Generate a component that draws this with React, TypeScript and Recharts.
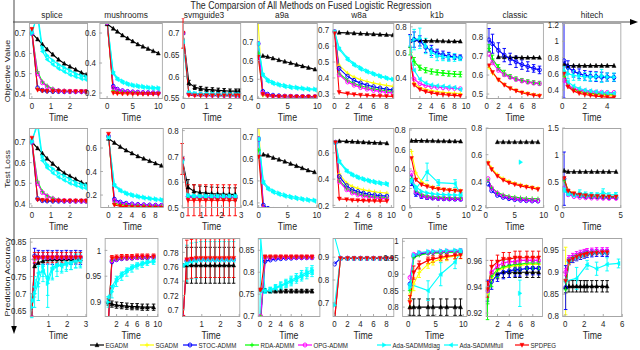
import React from 'react';
import { LineChart, Line, XAxis, YAxis, ErrorBar } from 'recharts';

const SERIES = ['EGADM', 'SGADM', 'STOC-ADMM', 'RDA-ADMM', 'OPG-ADMM', 'Ada-SADMMdiag', 'Ada-SADMMfull', 'SPDPEG'];
const COLORS = ['#000000', '#ffff00', '#0000ff', '#00ff00', '#ff00ff', '#00ffff', '#00ffff', '#ff0000'];
const MARKERS = ['^', '+', 'o', '+', 'o', '>', '<', 'v'];
const DATASETS = ['splice', 'mushrooms', 'svmguide3', 'a9a', 'w8a', 'k1b', 'classic', 'hitech'];
const ROWS = ['Objective Value', 'Test Loss', 'Prediction Accuracy'];
const TITLE = 'The Comparsion of All Methods on Fused Logistic Regression';

// ---- row 1: objective value ----
const objSpliceT = [0, 0.3, 0.55, 0.8, 1.1, 1.4, 1.7, 2.0, 2.3, 2.6, 2.85];
const objSplice = [
  [0.70, 0.67, 0.645, 0.62, 0.595, 0.57, 0.55, 0.535, 0.52, 0.505, 0.495],
  [0.70, 0.425, 0.415, 0.413, 0.412, 0.412, 0.412, 0.411, 0.411, 0.411, 0.411],
  [0.70, 0.43, 0.418, 0.414, 0.412, 0.412, 0.411, 0.411, 0.411, 0.411, 0.411],
  [0.70, 0.51, 0.46, 0.44, 0.425, 0.418, 0.415, 0.413, 0.412, 0.412, 0.412],
  [0.70, 0.50, 0.455, 0.435, 0.422, 0.416, 0.414, 0.413, 0.412, 0.412, 0.412],
  [0.70, 0.80, 0.63, 0.59, 0.565, 0.545, 0.53, 0.515, 0.50, 0.49, 0.485],
  [0.71, 0.78, 0.61, 0.57, 0.545, 0.525, 0.51, 0.495, 0.485, 0.475, 0.47],
  [0.72, 0.42, 0.416, 0.414, 0.413, 0.413, 0.412, 0.412, 0.412, 0.412, 0.412],
];

const objMushT = [0, 1.2, 2, 3, 4, 5, 6, 7, 8, 9, 10];
const objMush = [
  [0.66, 0.63, 0.61, 0.585, 0.565, 0.545, 0.525, 0.51, 0.495, 0.48, 0.465],
  [0.67, 0.21, 0.205, 0.20, 0.20, 0.20, 0.198, 0.198, 0.197, 0.197, 0.197],
  [0.67, 0.245, 0.225, 0.215, 0.21, 0.207, 0.205, 0.203, 0.202, 0.201, 0.20],
  [0.67, 0.215, 0.207, 0.203, 0.201, 0.20, 0.199, 0.198, 0.198, 0.197, 0.197],
  [0.67, 0.235, 0.22, 0.212, 0.207, 0.204, 0.202, 0.201, 0.20, 0.20, 0.20],
  [0.68, 0.34, 0.30, 0.28, 0.265, 0.255, 0.25, 0.245, 0.24, 0.237, 0.235],
  [0.68, 0.33, 0.29, 0.27, 0.257, 0.248, 0.242, 0.237, 0.233, 0.23, 0.228],
  [0.69, 0.20, 0.197, 0.195, 0.195, 0.194, 0.194, 0.193, 0.193, 0.193, 0.193],
];

const objSvmT = [0, 0.25, 0.5, 0.75, 1.0, 1.25, 1.5, 1.75, 2.0, 2.25, 2.4];
const objSvm = [
  [0.70, 0.585, 0.575, 0.572, 0.57, 0.569, 0.568, 0.567, 0.566, 0.566, 0.566],
  [0.70, 0.56, 0.558, 0.557, 0.557, 0.557, 0.557, 0.556, 0.556, 0.556, 0.556],
  [0.70, 0.561, 0.559, 0.558, 0.558, 0.557, 0.557, 0.557, 0.557, 0.557, 0.557],
  [0.70, 0.56, 0.558, 0.557, 0.557, 0.557, 0.556, 0.556, 0.556, 0.556, 0.556],
  [0.70, 0.56, 0.558, 0.558, 0.557, 0.557, 0.557, 0.556, 0.556, 0.556, 0.556],
  [0.68, 0.563, 0.561, 0.56, 0.56, 0.56, 0.559, 0.559, 0.559, 0.559, 0.559],
  [0.68, 0.562, 0.56, 0.559, 0.559, 0.559, 0.558, 0.558, 0.558, 0.558, 0.558],
  [0.70, 0.557, 0.556, 0.556, 0.556, 0.556, 0.556, 0.556, 0.556, 0.556, 0.556],
];
const objSvmE = {
  0: [0, 0.006, 0.005, 0.005, 0.005, 0.005, 0.005, 0.005, 0.005, 0.005, 0.005],
  7: [0.035, 0, 0, 0, 0, 0, 0, 0, 0, 0, 0],
};

const objA9aT = [0, 0.8, 1.6, 2.5, 3.5, 4.5, 5.5, 6.5, 7.5, 8.5, 9.6];
const objA9a = [
  [null, 0.625, 0.62, 0.612, 0.603, 0.595, 0.587, 0.578, 0.57, 0.562, 0.553],
  [0.80, 0.415, 0.41, 0.408, 0.407, 0.407, 0.406, 0.406, 0.406, 0.406, 0.406],
  [0.69, 0.435, 0.42, 0.415, 0.412, 0.41, 0.409, 0.408, 0.408, 0.407, 0.407],
  [0.64, 0.42, 0.412, 0.41, 0.409, 0.408, 0.407, 0.407, 0.407, 0.406, 0.406],
  [0.69, 0.425, 0.415, 0.41, 0.409, 0.408, 0.408, 0.407, 0.407, 0.407, 0.407],
  [0.69, 0.53, 0.50, 0.485, 0.475, 0.468, 0.462, 0.458, 0.454, 0.45, 0.448],
  [0.69, 0.52, 0.49, 0.477, 0.468, 0.46, 0.455, 0.452, 0.448, 0.445, 0.443],
  [0.62, 0.42, 0.412, 0.41, 0.409, 0.408, 0.408, 0.407, 0.407, 0.407, 0.407],
];

const objW8aT = [0, 0.7, 2, 3, 4, 5, 6, 7, 8, 9];
const objW8a = [
  [null, 0.685, 0.683, 0.681, 0.679, 0.677, 0.675, 0.673, 0.671, 0.669],
  [0.69, 0.48, 0.43, 0.405, 0.39, 0.378, 0.368, 0.36, 0.353, 0.347],
  [0.69, 0.46, 0.41, 0.385, 0.368, 0.355, 0.345, 0.337, 0.33, 0.325],
  [0.69, 0.43, 0.385, 0.365, 0.35, 0.34, 0.332, 0.325, 0.32, 0.316],
  [0.69, 0.42, 0.375, 0.355, 0.34, 0.33, 0.322, 0.316, 0.31, 0.306],
  [0.69, 0.59, 0.525, 0.49, 0.465, 0.445, 0.43, 0.415, 0.403, 0.393],
  [0.69, 0.58, 0.515, 0.48, 0.455, 0.437, 0.422, 0.408, 0.397, 0.387],
  [0.68, 0.31, 0.302, 0.297, 0.293, 0.29, 0.288, 0.287, 0.286, 0.285],
];

const objK1bT = [0.3, 1, 2, 3, 4, 5, 6, 7, 8, 9];
const objK1b = [
  [0.69, 0.70, 0.695, 0.69, 0.69, 0.69, 0.688, 0.687, 0.686, 0.686],
  [0.55, 0.36, 0.325, 0.31, 0.30, 0.292, 0.287, 0.283, 0.28, 0.278],
  [0.69, 0.70, 0.69, 0.64, 0.615, 0.595, 0.58, 0.57, 0.565, 0.56],
  [0.61, 0.53, 0.48, 0.46, 0.45, 0.443, 0.438, 0.434, 0.43, 0.428],
  [0.56, 0.39, 0.355, 0.34, 0.332, 0.327, 0.323, 0.32, 0.318, 0.315],
  [0.69, 0.70, 0.71, 0.65, 0.60, 0.575, 0.565, 0.56, 0.56, 0.555],
  [0.62, 0.46, 0.39, 0.36, 0.345, 0.338, 0.335, 0.33, 0.325, 0.31],
  [0.55, 0.345, 0.31, 0.293, 0.283, 0.275, 0.27, 0.266, 0.263, 0.26],
];
const objK1bE = {
  2: [0.05, 0.06, 0.04, 0.04, 0.04, 0.03, 0.03, 0.03, 0.02, 0.02],
  3: [0.03, 0.03, 0.02, 0.02, 0.02, 0.02, 0.02, 0.02, 0.02, 0.02],
  5: [0.04, 0.08, 0.08, 0.06, 0.04, 0.04, 0.03, 0.03, 0.03, 0.02],
};

const objClassicT = [0.4, 1, 2, 3, 4, 5, 6, 7, 8, 9];
const objClassic = [
  [null, null, 0.695, 0.695, 0.693, 0.693, 0.692, 0.692, 0.692, 0.692],
  [0.64, 0.61, 0.575, 0.55, 0.532, 0.52, 0.51, 0.503, 0.497, 0.493],
  [0.785, 0.765, 0.73, 0.705, 0.685, 0.67, 0.655, 0.645, 0.635, 0.627],
  [0.74, 0.685, 0.64, 0.61, 0.592, 0.58, 0.572, 0.565, 0.56, 0.557],
  [0.71, 0.665, 0.625, 0.602, 0.588, 0.577, 0.569, 0.563, 0.558, 0.555],
  [null, null, null, null, null, null, null, null, null, null],
  [null, null, null, null, null, null, null, null, null, null],
  [0.65, 0.615, 0.575, 0.548, 0.53, 0.517, 0.507, 0.5, 0.494, 0.49],
];
const objClassicE = {
  2: [0.06, 0.05, 0.04, 0.035, 0.03, 0.03, 0.025, 0.025, 0.02, 0.02],
  3: [0.02, 0.02, 0.015, 0.015, 0.01, 0.01, 0.01, 0.01, 0.01, 0.01],
};

const objHitechT = [0.15, 0.5, 1, 1.5, 2, 2.5, 3, 3.5, 4, 4.6];
const objHitech = [
  [0.72, 0.70, 0.70, 0.70, 0.70, 0.70, 0.70, 0.70, 0.70, 0.70],
  [0.58, 0.45, 0.40, 0.375, 0.36, 0.35, 0.343, 0.338, 0.334, 0.33],
  [0.76, 0.68, 0.63, 0.60, 0.58, 0.57, 0.565, 0.56, 0.56, 0.555],
  [0.57, 0.46, 0.41, 0.385, 0.37, 0.362, 0.357, 0.353, 0.35, 0.35],
  [0.52, 0.46, 0.42, 0.40, 0.39, 0.38, 0.375, 0.372, 0.37, 0.37],
  [0.64, 0.60, 0.58, 0.57, 0.565, 0.56, 0.565, 0.575, 0.56, 0.56],
  [0.60, 0.50, 0.45, 0.42, 0.40, 0.39, 0.38, 0.37, 0.365, 0.36],
  [0.60, 0.44, 0.39, 0.36, 0.345, 0.335, 0.325, 0.318, 0.313, 0.31],
];
const objHitechE = {
  2: [0.46, 0.08, 0.07, 0.06, 0.06, 0.06, 0.06, 0.06, 0.05, 0.05],
  5: [0.05, 0.06, 0.06, 0.05, 0.05, 0.05, 0.05, 0.08, 0.05, 0.05],
};

// ---- row 2: test loss ----
const lossSpliceT = [0, 0.3, 0.55, 0.8, 1.1, 1.4, 1.7, 2.0, 2.3, 2.6, 2.85];
const lossSplice = [
  [0.70, 0.67, 0.645, 0.62, 0.595, 0.57, 0.55, 0.535, 0.52, 0.505, 0.495],
  [0.70, 0.425, 0.418, 0.416, 0.415, 0.415, 0.414, 0.414, 0.414, 0.414, 0.414],
  [0.70, 0.425, 0.416, 0.414, 0.413, 0.413, 0.413, 0.413, 0.413, 0.413, 0.413],
  [0.70, 0.51, 0.46, 0.44, 0.428, 0.42, 0.417, 0.415, 0.414, 0.414, 0.414],
  [0.70, 0.50, 0.455, 0.437, 0.425, 0.418, 0.416, 0.415, 0.414, 0.414, 0.414],
  [0.70, 0.80, 0.63, 0.59, 0.57, 0.55, 0.535, 0.52, 0.505, 0.495, 0.49],
  [0.71, 0.78, 0.61, 0.575, 0.55, 0.53, 0.515, 0.50, 0.49, 0.48, 0.475],
  [0.72, 0.42, 0.418, 0.416, 0.415, 0.415, 0.415, 0.415, 0.415, 0.415, 0.415],
];

const lossMushT = [0, 1, 2, 3, 4, 5, 6, 7, 8, 9];
const lossMush = [
  [0.68, 0.645, 0.61, 0.58, 0.555, 0.53, 0.51, 0.49, 0.47, 0.45],
  [0.70, 0.125, 0.115, 0.11, 0.108, 0.106, 0.105, 0.104, 0.103, 0.102],
  [0.70, 0.165, 0.14, 0.13, 0.124, 0.12, 0.117, 0.115, 0.113, 0.112],
  [0.70, 0.13, 0.12, 0.113, 0.11, 0.108, 0.106, 0.105, 0.104, 0.103],
  [0.70, 0.15, 0.13, 0.122, 0.117, 0.114, 0.112, 0.11, 0.109, 0.108],
  [0.69, 0.29, 0.245, 0.22, 0.205, 0.193, 0.183, 0.175, 0.168, 0.162],
  [0.69, 0.28, 0.235, 0.21, 0.195, 0.183, 0.174, 0.167, 0.16, 0.155],
  [0.72, 0.115, 0.105, 0.10, 0.097, 0.095, 0.094, 0.093, 0.092, 0.092],
];

const lossSvmT = [0, 0.3, 0.6, 0.9, 1.2, 1.5, 1.8, 2.1, 2.4, 2.7];
const lossSvm = [
  [0.69, 0.58, 0.565, 0.56, 0.558, 0.556, 0.555, 0.554, 0.553, 0.553],
  [0.69, 0.542, 0.54, 0.54, 0.54, 0.54, 0.54, 0.54, 0.54, 0.54],
  [0.69, 0.545, 0.542, 0.541, 0.541, 0.541, 0.541, 0.541, 0.541, 0.541],
  [0.69, 0.542, 0.54, 0.54, 0.54, 0.54, 0.54, 0.54, 0.54, 0.54],
  [0.69, 0.543, 0.541, 0.541, 0.541, 0.541, 0.541, 0.541, 0.541, 0.541],
  [0.68, 0.55, 0.548, 0.547, 0.547, 0.547, 0.547, 0.547, 0.547, 0.547],
  [0.68, 0.548, 0.546, 0.545, 0.545, 0.545, 0.545, 0.545, 0.545, 0.545],
  [0.69, 0.53, 0.53, 0.53, 0.53, 0.53, 0.53, 0.53, 0.53, 0.53],
];
const lossSvmE = {
  0: [0, 0.03, 0.025, 0.025, 0.025, 0.025, 0.025, 0.025, 0.025, 0.025],
  7: [0.06, 0.06, 0.06, 0.06, 0.06, 0.06, 0.06, 0.06, 0.06, 0.06],
};

const lossA9aT = [0, 0.8, 1.6, 2.5, 3.5, 4.5, 5.5, 6.5, 7.5, 8.5, 9.6];
const lossA9a = [
  [null, 0.62, 0.615, 0.605, 0.597, 0.588, 0.578, 0.568, 0.558, 0.548, 0.54],
  [0.75, 0.365, 0.362, 0.36, 0.36, 0.36, 0.36, 0.36, 0.36, 0.36, 0.36],
  [0.69, 0.39, 0.375, 0.37, 0.368, 0.366, 0.365, 0.365, 0.364, 0.364, 0.364],
  [0.64, 0.37, 0.365, 0.363, 0.362, 0.362, 0.362, 0.361, 0.361, 0.361, 0.361],
  [0.69, 0.375, 0.368, 0.365, 0.364, 0.363, 0.363, 0.362, 0.362, 0.362, 0.362],
  [0.69, 0.50, 0.47, 0.455, 0.445, 0.437, 0.43, 0.425, 0.42, 0.416, 0.413],
  [0.69, 0.49, 0.462, 0.448, 0.438, 0.43, 0.424, 0.419, 0.415, 0.411, 0.408],
  [0.61, 0.36, 0.36, 0.359, 0.359, 0.359, 0.359, 0.359, 0.359, 0.359, 0.359],
];

const lossW8aT = [0, 0.7, 2, 3, 4, 5, 6, 7, 8, 9.2];
const lossW8a = [
  [null, 0.69, 0.688, 0.686, 0.684, 0.682, 0.68, 0.678, 0.676, 0.674],
  [0.68, 0.44, 0.37, 0.345, 0.33, 0.318, 0.31, 0.303, 0.298, 0.293],
  [0.68, 0.42, 0.35, 0.32, 0.305, 0.293, 0.285, 0.279, 0.274, 0.27],
  [0.68, 0.39, 0.33, 0.305, 0.29, 0.28, 0.273, 0.267, 0.263, 0.26],
  [0.68, 0.38, 0.32, 0.295, 0.28, 0.27, 0.263, 0.258, 0.254, 0.25],
  [0.68, 0.54, 0.47, 0.44, 0.42, 0.405, 0.393, 0.383, 0.375, 0.368],
  [0.68, 0.53, 0.46, 0.43, 0.41, 0.395, 0.383, 0.373, 0.365, 0.358],
  [0.68, 0.25, 0.245, 0.24, 0.238, 0.236, 0.235, 0.234, 0.233, 0.233],
];

const lossK1bT = [0.2, 1, 2, 3, 4, 5, 6, 7, 8, 9];
const lossK1b = [
  [0.69, 0.69, 0.69, 0.688, 0.688, 0.686, 0.686, 0.685, 0.684, 0.683],
  [0.58, 0.36, 0.27, 0.235, 0.215, 0.20, 0.192, 0.186, 0.181, 0.177],
  [0.28, 0.15, 0.12, 0.108, 0.102, 0.098, 0.095, 0.093, 0.091, 0.09],
  [0.30, 0.18, 0.14, 0.125, 0.117, 0.112, 0.108, 0.105, 0.103, 0.102],
  [0.36, 0.17, 0.125, 0.112, 0.105, 0.101, 0.099, 0.097, 0.096, 0.095],
  [0.27, 0.22, 0.17, 0.155, 0.145, 0.14, 0.137, 0.135, 0.133, 0.132],
  [0.29, 0.19, null, 0.37, null, 0.26, null, null, 0.25, 0.14],
  [0.51, 0.29, 0.24, 0.22, 0.205, 0.195, 0.188, 0.182, 0.177, 0.172],
];
const lossK1bE = {
  2: [0.05, 0.03, 0.02, 0.02, 0.015, 0.015, 0.015, 0.015, 0.015, 0.015],
  6: [0, 0, 0, 0.09, 0, 0.03, 0, 0, 0.04, 0.02],
};

const lossClassicT = [0.4, 1, 2, 3, 4, 5, 6, 7, 8, 9];
const lossClassic = [
  [null, null, 0.695, 0.695, 0.695, 0.695, 0.695, 0.695, 0.695, 0.695],
  [0.545, 0.50, 0.45, 0.42, 0.40, 0.385, 0.373, 0.363, 0.355, 0.348],
  [0.38, 0.33, 0.295, 0.28, 0.27, 0.263, 0.258, 0.255, 0.253, 0.252],
  [0.41, 0.355, 0.315, 0.298, 0.288, 0.281, 0.276, 0.272, 0.27, 0.268],
  [0.42, 0.35, 0.31, 0.29, 0.278, 0.27, 0.265, 0.261, 0.258, 0.256],
  [null, null, null, null, null, null, 0.544, null, null, null],
  [null, null, null, null, null, null, null, null, null, null],
  [0.535, 0.49, 0.44, 0.41, 0.39, 0.377, 0.366, 0.357, 0.35, 0.34],
];

const lossHitechT = [0.15, 0.5, 1, 1.5, 2, 2.5, 3, 3.5, 4, 4.6];
const lossHitech = [
  [0.70, 0.68, 0.68, 0.68, 0.68, 0.68, 0.68, 0.68, 0.68, 0.68],
  [0.56, 0.33, 0.28, 0.255, 0.24, 0.23, 0.223, 0.218, 0.214, 0.21],
  [0.55, 0.30, 0.25, 0.23, 0.22, 0.213, 0.208, 0.204, 0.20, 0.20],
  [0.52, 0.30, 0.25, 0.232, 0.222, 0.215, 0.21, 0.206, 0.203, 0.20],
  [0.37, 0.25, 0.215, 0.20, 0.193, 0.188, 0.185, 0.183, 0.181, 0.18],
  [0.35, 0.27, 0.25, 0.28, 0.26, 0.25, 0.245, 0.29, 0.245, 0.25],
  [0.33, 0.26, 0.24, 0.235, 0.23, 0.228, 0.225, 0.223, 0.222, 0.22],
  [0.56, 0.32, 0.27, 0.25, 0.235, 0.225, 0.22, 0.215, 0.212, 0.21],
];
const lossHitechE = {
  2: [0.5, 0.05, 0.03, 0.03, 0.03, 0.03, 0.03, 0.03, 0.03, 0.03],
  5: [0.05, 0.04, 0.04, 0.06, 0.04, 0.04, 0.04, 0.07, 0.04, 0.04],
};

// ---- row 3: prediction accuracy ----
const accSpliceT = [0.1, 0.25, 0.45, 0.7, 0.95, 1.2, 1.45, 1.7, 1.95, 2.2, 2.45, 2.7];
const accSplice = [
  [0.63, 0.78, 0.79, 0.795, 0.80, 0.80, 0.80, 0.80, 0.80, 0.80, 0.80, 0.80],
  [0.63, 0.80, 0.805, 0.805, 0.805, 0.805, 0.805, 0.805, 0.805, 0.805, 0.805, 0.805],
  [0.63, 0.81, 0.806, 0.805, 0.806, 0.805, 0.806, 0.805, 0.806, 0.805, 0.806, 0.805],
  [0.63, 0.80, 0.804, 0.805, 0.805, 0.805, 0.805, 0.805, 0.805, 0.805, 0.805, 0.805],
  [0.63, 0.80, 0.805, 0.806, 0.805, 0.806, 0.805, 0.806, 0.805, 0.806, 0.805, 0.806],
  [0.66, 0.70, 0.73, 0.78, 0.73, 0.77, 0.78, 0.785, 0.79, 0.79, 0.795, 0.80],
  [0.68, 0.72, 0.76, 0.765, 0.745, 0.775, 0.785, 0.78, 0.785, 0.79, 0.795, 0.795],
  [0.63, 0.805, 0.805, 0.805, 0.805, 0.805, 0.805, 0.805, 0.805, 0.805, 0.805, 0.805],
];
const accSpliceE = {
  2: [0, 0.022, 0.02, 0.02, 0.02, 0.02, 0.02, 0.02, 0.02, 0.02, 0.02, 0.02],
  5: [0.03, 0.04, 0.05, 0.03, 0.07, 0.03, 0.03, 0.02, 0.02, 0.02, 0.02, 0.02],
  6: [0.02, 0.03, 0.04, 0.03, 0.05, 0.03, 0.02, 0.02, 0.02, 0.02, 0.02, 0.02],
  7: [0, 0.015, 0.015, 0.015, 0.015, 0.015, 0.015, 0.015, 0.015, 0.015, 0.015, 0.015],
};

const accMushT = [0.4, 1.1, 2, 3, 4, 5, 6, 7, 8, 9.2];
const accMush = [
  [0.90, 0.896, 0.894, 0.893, 0.892, 0.891, 0.891, 0.89, 0.89, 0.89],
  [0.86, 0.982, 0.984, 0.985, 0.985, 0.986, 0.986, 0.986, 0.987, 0.987],
  [0.86, 0.978, 0.982, 0.984, 0.985, 0.985, 0.986, 0.986, 0.986, 0.987],
  [0.86, 0.982, 0.984, 0.985, 0.985, 0.985, 0.986, 0.986, 0.986, 0.987],
  [0.86, 0.98, 0.983, 0.985, 0.985, 0.986, 0.986, 0.987, 0.987, 0.987],
  [0.90, 0.92, 0.94, 0.95, 0.958, 0.965, 0.97, 0.973, 0.976, 0.978],
  [0.91, 0.93, 0.945, 0.955, 0.962, 0.968, 0.972, 0.975, 0.978, 0.98],
  [0.86, 0.985, 0.986, 0.987, 0.987, 0.987, 0.988, 0.988, 0.988, 0.988],
];
const accMushE = {
  0: [0.006, 0.006, 0.006, 0.006, 0.006, 0.006, 0.006, 0.006, 0.006, 0.006],
  5: [0.01, 0.012, 0.01, 0.008, 0.008, 0.007, 0.006, 0.006, 0.005, 0.005],
  7: [0, 0.005, 0.005, 0.005, 0.005, 0.005, 0.005, 0.005, 0.005, 0.005],
};

const accSvmT = [0, 0.2, 0.45, 0.7, 0.95, 1.2, 1.45, 1.7, 1.95, 2.2, 2.45, 2.7];
const accSvm = [
  [0.762, 0.762, 0.762, 0.762, 0.762, 0.762, 0.762, 0.762, 0.762, 0.762, 0.762, 0.762],
  [0.69, 0.768, 0.77, 0.771, 0.771, 0.771, 0.771, 0.771, 0.771, 0.771, 0.771, 0.771],
  [0.69, 0.768, 0.769, 0.77, 0.77, 0.77, 0.77, 0.77, 0.77, 0.77, 0.77, 0.77],
  [0.69, 0.768, 0.77, 0.77, 0.77, 0.77, 0.77, 0.77, 0.77, 0.77, 0.77, 0.77],
  [0.69, 0.769, 0.77, 0.77, 0.77, 0.77, 0.77, 0.77, 0.77, 0.77, 0.77, 0.77],
  [0.762, 0.765, 0.768, 0.769, 0.77, 0.77, 0.77, 0.77, 0.77, 0.77, 0.77, 0.77],
  [0.762, 0.764, 0.767, 0.768, 0.769, 0.769, 0.769, 0.769, 0.769, 0.769, 0.769, 0.769],
  [0.69, 0.77, 0.771, 0.772, 0.772, 0.772, 0.772, 0.772, 0.772, 0.772, 0.772, 0.772],
];
const accSvmE = {
  0: [0, 0.025, 0.025, 0.025, 0.025, 0.025, 0.025, 0.025, 0.025, 0.025, 0.025, 0.025],
  5: [0, 0.025, 0.025, 0.025, 0.025, 0.025, 0.025, 0.025, 0.025, 0.025, 0.025, 0.025],
  7: [0, 0.027, 0.027, 0.027, 0.027, 0.027, 0.027, 0.027, 0.027, 0.027, 0.027, 0.027],
};

const accA9aT = [0, 0.15, 1, 2, 3, 4, 5, 6, 7, 8, 9, 10];
const accA9a = [
  [null, null, 0.758, 0.757, 0.757, 0.757, 0.757, 0.757, 0.757, 0.757, 0.757, 0.757],
  [null, 0.70, 0.833, 0.834, 0.834, 0.834, 0.834, 0.834, 0.834, 0.834, 0.834, 0.834],
  [null, 0.69, 0.825, 0.828, 0.83, 0.831, 0.832, 0.832, 0.833, 0.833, 0.833, 0.833],
  [null, 0.70, 0.833, 0.834, 0.834, 0.834, 0.834, 0.834, 0.834, 0.834, 0.834, 0.834],
  [null, 0.70, 0.833, 0.833, 0.834, 0.834, 0.834, 0.834, 0.834, 0.834, 0.834, 0.834],
  [0.69, 0.88, 0.757, 0.76, 0.765, 0.77, 0.776, 0.782, 0.788, 0.794, 0.80, 0.805],
  [0.758, 0.758, 0.758, 0.759, 0.763, 0.768, 0.773, 0.778, 0.784, 0.79, 0.795, 0.80],
  [0.76, 0.76, 0.835, 0.835, 0.835, 0.835, 0.835, 0.835, 0.835, 0.835, 0.835, 0.835],
];
const accA9aE = {
  0: [0, 0, 0.004, 0.004, 0.004, 0.004, 0.004, 0.004, 0.004, 0.004, 0.004, 0.004],
  5: [0, 0, 0.005, 0.006, 0.007, 0.008, 0.008, 0.009, 0.009, 0.01, 0.01, 0.01],
  6: [0, 0, 0.005, 0.006, 0.007, 0.008, 0.008, 0.009, 0.009, 0.01, 0.01, 0.01],
  7: [0, 0, 0.004, 0.004, 0.004, 0.004, 0.004, 0.004, 0.004, 0.004, 0.004, 0.004],
};

const accW8aT = [0, 0.9, 2, 3, 4, 5, 6, 7, 8, 9];
const accW8a = [
  [null, 0.895, 0.895, 0.895, 0.895, 0.895, 0.895, 0.895, 0.895, 0.895],
  [0.63, 0.894, 0.895, 0.895, 0.895, 0.895, 0.895, 0.895, 0.895, 0.895],
  [0.87, 0.895, 0.895, 0.895, 0.895, 0.895, 0.895, 0.895, 0.895, 0.895],
  [0.63, 0.894, 0.895, 0.895, 0.895, 0.895, 0.895, 0.895, 0.895, 0.895],
  [0.63, 0.895, 0.895, 0.895, 0.895, 0.895, 0.895, 0.895, 0.895, 0.895],
  [0.69, 0.895, 0.895, 0.895, 0.895, 0.895, 0.895, 0.895, 0.895, 0.895],
  [0.99, 0.895, 0.895, 0.895, 0.895, 0.895, 0.895, 0.895, 0.895, 0.895],
  [0.62, 0.895, 0.895, 0.895, 0.895, 0.895, 0.895, 0.895, 0.895, 0.895],
];

const accK1bT = [0.3, 1, 2, 3.6, 4.5, 5.9, 7, 8.5, 9.5];
const accK1b = [
  [0.80, 0.80, 0.80, 0.80, 0.80, 0.80, 0.80, 0.80, 0.80],
  [0.82, 0.87, 0.905, 0.93, 0.938, 0.946, 0.951, 0.955, 0.957],
  [0.87, 0.955, 0.962, 0.965, 0.966, 0.967, 0.968, 0.969, 0.969],
  [0.85, 0.95, 0.958, 0.963, 0.964, 0.965, 0.966, 0.967, 0.967],
  [0.89, 0.96, 0.965, 0.967, 0.968, 0.969, 0.97, 0.97, 0.971],
  [0.86, 0.958, 0.966, 0.969, 0.97, 0.971, 0.972, 0.973, 0.973],
  [0.87, null, null, 0.85, null, 0.90, null, 0.937, 0.968],
  [0.815, 0.905, 0.928, 0.942, 0.946, 0.951, 0.954, 0.957, 0.958],
];
const accK1bE = {
  0: [0.025, 0.025, 0.025, 0.025, 0.025, 0.025, 0.025, 0.025, 0.025],
  1: [0.02, 0.02, 0.015, 0.012, 0.01, 0.01, 0.01, 0.01, 0.01],
  6: [0, 0, 0, 0.03, 0, 0.035, 0, 0.02, 0.01],
  7: [0.02, 0.02, 0.012, 0.01, 0.01, 0.01, 0.01, 0.01, 0.01],
};

const accClassicT = [0.3, 1, 2, 3, 4, 5, 5.8, 7, 8, 9];
const accClassic = [
  [null, null, 0.95, 0.951, 0.951, 0.951, 0.951, 0.951, 0.951, 0.951],
  [0.935, 0.946, 0.952, 0.954, 0.955, 0.956, 0.956, 0.957, 0.957, 0.957],
  [0.937, 0.944, 0.949, 0.951, 0.952, 0.953, 0.953, 0.954, 0.954, 0.954],
  [0.927, 0.948, 0.953, 0.955, 0.956, 0.957, 0.957, 0.958, 0.958, 0.958],
  [0.937, 0.951, 0.956, 0.958, 0.959, 0.959, 0.96, 0.96, 0.96, 0.96],
  [null, null, null, null, null, null, 0.935, null, null, null],
  [null, null, null, null, null, null, null, null, null, null],
  [0.938, 0.955, 0.959, 0.961, 0.961, 0.962, 0.962, 0.962, 0.962, 0.962],
];
const accClassicE = {
  0: [0, 0, 0.004, 0.004, 0.004, 0.004, 0.004, 0.004, 0.004, 0.004],
  2: [0.008, 0.006, 0.005, 0.005, 0.005, 0.005, 0.005, 0.005, 0.005, 0.005],
  3: [0.012, 0.008, 0.006, 0.005, 0.005, 0.005, 0.005, 0.005, 0.005, 0.005],
  5: [0, 0, 0, 0, 0, 0, 0.01, 0, 0, 0],
  7: [0.006, 0.005, 0.005, 0.005, 0.005, 0.005, 0.005, 0.005, 0.005, 0.005],
};

const accHitechT = [0.05, 0.4, 0.8, 1.2, 1.6, 2.0, 2.3, 2.8, 3.3, 3.9, 4.4, 5.6];
const accHitech = [
  [0.866, 0.868, 0.868, 0.868, 0.868, 0.868, 0.868, 0.868, 0.868, 0.868, 0.868, null],
  [0.88, 0.92, 0.928, 0.932, 0.935, 0.938, 0.94, 0.942, 0.943, 0.944, 0.944, null],
  [0.865, 0.925, 0.93, 0.934, 0.937, 0.94, 0.942, 0.943, 0.944, 0.944, 0.944, null],
  [0.86, 0.927, 0.932, 0.936, 0.939, 0.941, 0.943, 0.944, 0.945, 0.945, 0.945, null],
  [0.90, 0.93, 0.935, 0.939, 0.942, 0.944, 0.946, 0.947, 0.948, 0.948, 0.948, null],
  [0.88, 0.925, 0.93, 0.935, 0.937, 0.94, 0.942, 0.943, 0.944, 0.944, 0.944, null],
  [0.88, null, null, 0.886, null, null, 0.917, null, 0.908, null, 0.918, 0.92],
  [0.88, 0.925, 0.93, 0.935, 0.938, 0.94, 0.942, 0.943, 0.944, 0.945, 0.945, null],
];
const accHitechE = {
  0: [0.013, 0.013, 0.013, 0.013, 0.013, 0.013, 0.013, 0.013, 0.013, 0.013, 0.013, 0],
  1: [0.077, 0, 0, 0, 0, 0, 0, 0, 0, 0, 0, 0],
  2: [0.05, 0.008, 0.008, 0.008, 0.008, 0.008, 0.008, 0.008, 0.008, 0.008, 0.008, 0],
  4: [0.008, 0.008, 0.008, 0.008, 0.008, 0.008, 0.008, 0.008, 0.008, 0.008, 0.008, 0],
  6: [0, 0, 0, 0.025, 0, 0, 0.01, 0, 0.015, 0, 0.015, 0.01],
};

// layout -------------------------------------------------------------
const SX = 0.88; // original figure is horizontally squeezed
const X = (v: number) => v / SX;
const FONT = "'Liberation Sans', Arial, Helvetica, sans-serif";
const INK = '#262626';
const BOX = '#a6a6a6';

type Spec = {
  t: number[];
  v: (number | null)[][];
  e?: Record<number, number[]>;
  box: number[];
  xd: number[];
  xt: number[];
  yd: number[];
  yt: number[];
};

const PANELS: Spec[] = [
  { t: objSpliceT, v: objSplice, box: [29, 23, 59, 76], xd: [-0.15, 2.95], xt: [0, 1, 2], yd: [0.375, 0.75], yt: [0.4, 0.5, 0.6, 0.7] },
  { t: objMushT, v: objMush, box: [99, 23, 64, 76], xd: [-1.5, 11], xt: [0, 5, 10], yd: [0.16, 0.667], yt: [0.2, 0.4, 0.6] },
  { t: objSvmT, v: objSvm, e: objSvmE, box: [183, 23, 58, 76], xd: [0, 2.47], xt: [0, 1, 2], yd: [0.548, 0.723], yt: [0.55, 0.6, 0.65, 0.7] },
  { t: objA9aT, v: objA9a, box: [257, 23, 61, 76], xd: [-0.2, 10.1], xt: [0, 5, 10], yd: [0.395, 0.8], yt: [0.4, 0.5, 0.6, 0.7] },
  { t: objW8aT, v: objW8a, box: [333, 23, 61, 76], xd: [-0.3, 9.1], xt: [0, 2, 4, 6, 8], yd: [0.268, 0.745], yt: [0.3, 0.4, 0.5, 0.6, 0.7] },
  { t: objK1bT, v: objK1b, e: objK1bE, box: [410, 23, 56, 76], xd: [0.3, 10], xt: [2, 4, 6, 8, 10], yd: [0.235, 0.83], yt: [0.4, 0.6, 0.8] },
  { t: objClassicT, v: objClassic, e: objClassicE, box: [487, 23, 57, 76], xd: [0, 9.7], xt: [0, 2, 4, 6, 8], yd: [0.474, 0.874], yt: [0.5, 0.6, 0.7, 0.8] },
  { t: objHitechT, v: objHitech, e: objHitechE, box: [562, 23, 59, 76], xd: [0, 5.25], xt: [0, 2, 4], yd: [0.29, 1.225], yt: [0.4, 0.6, 0.8, 1, 1.2] },

  { t: lossSpliceT, v: lossSplice, box: [29, 128, 59, 80], xd: [-0.15, 2.95], xt: [0, 1, 2], yd: [0.38, 0.768], yt: [0.4, 0.5, 0.6, 0.7] },
  { t: lossMushT, v: lossMush, box: [100, 128, 64, 80], xd: [-1.4, 9.5], xt: [0, 2, 4, 6, 8], yd: [0.09, 0.77], yt: [0.2, 0.4, 0.6] },
  { t: lossSvmT, v: lossSvm, e: lossSvmE, box: [182, 128, 59, 80], xd: [0, 3], xt: [0, 1, 2, 3], yd: [0.5, 0.81], yt: [0.5, 0.6, 0.7, 0.8] },
  { t: lossA9aT, v: lossA9a, box: [257, 128, 61, 80], xd: [-0.3, 10.2], xt: [0, 5, 10], yd: [0.377, 0.74], yt: [0.4, 0.5, 0.6, 0.7] },
  { t: lossW8aT, v: lossW8a, box: [333, 128, 61, 80], xd: [-0.5, 10.4], xt: [2, 4, 6, 8, 10], yd: [0.18, 0.79], yt: [0.2, 0.4, 0.6] },
  { t: lossK1bT, v: lossK1b, e: lossK1bE, box: [409, 128, 57, 80], xd: [-0.2, 10], xt: [0, 5, 10], yd: [0, 0.82], yt: [0, 0.2, 0.4, 0.6, 0.8] },
  { t: lossClassicT, v: lossClassic, box: [486, 128, 58, 80], xd: [0, 10], xt: [0, 5, 10], yd: [0.2, 0.8], yt: [0.2, 0.4, 0.6, 0.8] },
  { t: lossHitechT, v: lossHitech, e: lossHitechE, box: [562, 128, 59, 80], xd: [0, 5.05], xt: [0, 5], yd: [0, 1.5], yt: [0, 0.5, 1, 1.5] },

  { t: accSpliceT, v: accSplice, e: accSpliceE, box: [30, 238, 57, 79], xd: [0, 3.05], xt: [1, 2, 3], yd: [0.632, 0.862], yt: [0.65, 0.7, 0.75, 0.8, 0.85] },
  { t: accMushT, v: accMush, e: accMushE, box: [105, 238, 53, 79], xd: [-0.3, 10], xt: [2, 4, 6, 8, 10], yd: [0.871, 1.024], yt: [0.9, 0.95, 1] },
  { t: accSvmT, v: accSvm, e: accSvmE, box: [182, 238, 58, 79], xd: [-0.05, 3.05], xt: [1, 2, 3], yd: [0.69, 0.8], yt: [0.7, 0.72, 0.74, 0.76, 0.78] },
  { t: accA9aT, v: accA9a, e: accA9aE, box: [258, 238, 62, 79], xd: [-0.4, 11.5], xt: [0, 2, 4, 6, 8], yd: [0.698, 0.878], yt: [0.7, 0.75, 0.8, 0.85] },
  { t: accW8aT, v: accW8a, box: [333, 238, 61, 79], xd: [-0.3, 9.1], xt: [0, 2, 4, 6, 8], yd: [0.638, 0.984], yt: [0.7, 0.8, 0.9] },
  { t: accK1bT, v: accK1b, e: accK1bE, box: [402, 238, 65, 79], xd: [-1.1, 10.7], xt: [0, 5, 10], yd: [0.77, 1.01], yt: [0.8, 0.85, 0.9, 0.95, 1] },
  { t: accClassicT, v: accClassic, e: accClassicE, box: [486, 238, 57, 79], xd: [0, 9.7], xt: [2, 4, 6, 8], yd: [0.917, 0.977], yt: [0.92, 0.94, 0.96] },
  { t: accHitechT, v: accHitech, e: accHitechE, box: [562, 238, 60, 79], xd: [-0.3, 6], xt: [0, 2, 4, 6], yd: [0.798, 0.978], yt: [0.8, 0.85, 0.9, 0.95] },
];

const TITLE_X = [52, 126, 204, 282, 359, 437, 515, 592];
const ROW_Y = [71, 169, 277];
const LEGEND_X = [90, 140, 183, 245, 298, 377, 444, 515];

function marker(shape: string, color: string, cx: number, cy: number, key: any, s = 2.3) {
  const k = s * 0.75;
  switch (shape) {
    case '^':
      return <polygon key={key} points={`${cx},${cy - s} ${cx - s},${cy + k} ${cx + s},${cy + k}`} fill={color} stroke={color} strokeWidth={0.5} />;
    case 'v':
      return <polygon key={key} points={`${cx},${cy + s} ${cx - s},${cy - k} ${cx + s},${cy - k}`} fill={color} stroke={color} strokeWidth={0.5} />;
    case '>':
      return <polygon key={key} points={`${cx + s},${cy} ${cx - k},${cy - s} ${cx - k},${cy + s}`} fill={color} stroke={color} strokeWidth={0.5} />;
    case '<':
      return <polygon key={key} points={`${cx - s},${cy} ${cx + k},${cy - s} ${cx + k},${cy + s}`} fill={color} stroke={color} strokeWidth={0.5} />;
    case 'o':
      return <circle key={key} cx={cx} cy={cy} r={s * 0.9} fill="none" stroke={color} strokeWidth={1} />;
    default:
      return <path key={key} d={`M${cx - s},${cy}H${cx + s}M${cx},${cy - s}V${cy + s}`} stroke={color} strokeWidth={1} fill="none" />;
  }
}

const dotFor = (k: number) => (props: any) => {
  const { cx, cy, index, value } = props;
  if (value == null || cx == null || cy == null || Number.isNaN(cx) || Number.isNaN(cy)) return <g key={`n${index}`} />;
  return marker(MARKERS[k], COLORS[k], cx, cy, `m${index}`);
};

function Panel({ p }: { p: Spec }) {
  const [l, top, w, h] = p.box;
  const yw = 34, xh = 26, pt = 5, pr = 8;
  const W = X(w), L = X(l);
  const data = p.t.map((t, i) => {
    const row: any = { t };
    p.v.forEach((s, k) => { row['s' + k] = s[i]; });
    if (p.e) Object.keys(p.e).forEach((k) => { const v = p.e![+k][i]; if (v) row['e' + k] = v; });
    return row;
  });
  const tickStyle = { fontSize: 9, fill: INK };
  return (
    <>
      <div style={{ position: 'absolute', left: L - yw, top: top - pt }}>
        <LineChart width={yw + W + pr} height={pt + h + xh} data={data} margin={{ top: pt, right: pr, bottom: 0, left: 0 }}>
          <XAxis dataKey="t" type="number" domain={p.xd} ticks={p.xt} allowDataOverflow interval={0} height={xh}
            axisLine={false} tickSize={-3} tickMargin={7} tickLine={{ stroke: BOX }} tick={tickStyle}
            label={{ value: 'Time', position: 'insideBottom', offset: 4, fontSize: 10, fill: INK }} />
          <YAxis type="number" domain={p.yd} ticks={p.yt} allowDataOverflow interval={0} width={yw}
            axisLine={false} tickSize={-3} tickMargin={7} tickLine={{ stroke: BOX }} tick={tickStyle} />
          {SERIES.map((name, k) => (
            <Line key={name} name={name} type="linear" dataKey={'s' + k} stroke={COLORS[k]} strokeWidth={1.2}
              dot={dotFor(k)} activeDot={false} connectNulls isAnimationActive={false}>
              {p.e && p.e[k] ? (
                <ErrorBar dataKey={'e' + k} width={2} stroke={COLORS[k]} strokeWidth={1} direction="y" isAnimationActive={false} />
              ) : null}
            </Line>
          ))}
        </LineChart>
      </div>
      <div style={{ position: 'absolute', left: L, top, width: W, height: h, border: `1px solid ${BOX}`, boxSizing: 'border-box', pointerEvents: 'none' }} />
    </>
  );
}

function Overlay() {
  return (
    <svg width={X(640)} height={350} style={{ position: 'absolute', left: 0, top: 0 }}>
      <text x={X(311)} y={8.5} fontSize={10} textAnchor="middle" fill={INK}>{TITLE}</text>
      {DATASETS.map((d, i) => (
        <text key={d} x={X(TITLE_X[i])} y={18.5} fontSize={9.5} textAnchor="middle" fill={INK}>{d}</text>
      ))}
      <line x1={X(13)} y1={22} x2={X(631)} y2={22} stroke="#444" strokeWidth={1} />
      <polygon points={`${X(638)},22 ${X(630)},19 ${X(630)},25`} fill="#000" />
      <line x1={X(14)} y1={0} x2={X(14)} y2={327} stroke="#444" strokeWidth={1.1} />
      <polygon points={`${X(14)},334 ${X(11.2)},326 ${X(16.8)},326`} fill="#000" />
      {ROWS.map((r, i) => (
        <text key={r} transform={`translate(${X(7)},${ROW_Y[i]}) rotate(-90)`} fontSize={9} textAnchor="middle" dominantBaseline="central" fill={INK}>{r}</text>
      ))}
      {SERIES.map((s, k) => {
        const x0 = LEGEND_X[k];
        return (
          <g key={s}>
            <line x1={X(x0)} y1={345} x2={X(x0 + 14)} y2={345} stroke={COLORS[k]} strokeWidth={1.2} />
            {marker(MARKERS[k], COLORS[k], X(x0 + 7), 345, 'lm')}
            <text x={X(x0 + 15.5)} y={348} fontSize={7} fill={INK}>{s}</text>
          </g>
        );
      })}
    </svg>
  );
}

export default function App() {
  return (
    <div style={{ position: 'absolute', left: 0, top: 0, width: 640, height: 350, overflow: 'hidden', background: '#fff', fontFamily: FONT }}>
      <div style={{ position: 'absolute', left: 0, top: 0, width: X(640), height: 350, transform: `scaleX(${SX})`, transformOrigin: '0 0' }}>
        <Overlay />
        {PANELS.map((p, i) => <Panel key={i} p={p} />)}
      </div>
    </div>
  );
}
